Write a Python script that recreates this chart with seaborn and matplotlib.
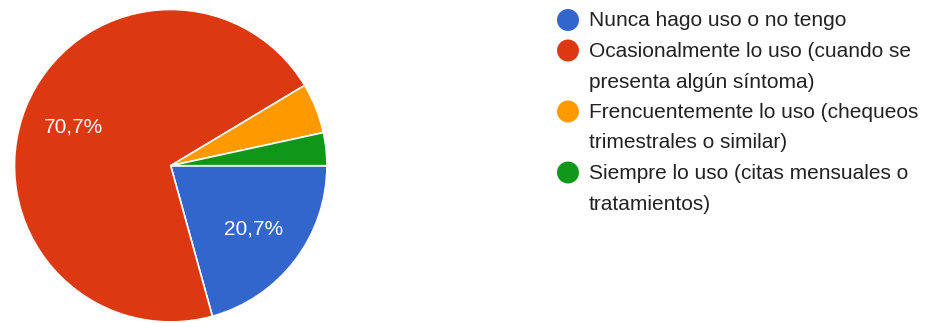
import matplotlib
matplotlib.use("Agg")
import matplotlib.pyplot as plt
import seaborn as sns

# Survey answers and their shares (%)
categories = [
    "Nunca hago uso o no tengo",
    "Ocasionalmente lo uso (cuando se\npresenta algún síntoma)",
    "Frencuentemente lo uso (chequeos\ntrimestrales o similar)",
    "Siempre lo uso (citas mensuales o\ntratamientos)",
]
shares = [20.7, 70.7, 5.2, 3.4]
colors = ["#3366CC", "#DC3912", "#FF9900", "#109618"]

sns.set_style("white")
plt.rcParams["font.family"] = ["Liberation Sans", "DejaVu Sans"]
palette = sns.color_palette(colors)

W, H, DPI = 938, 323, 100
fig = plt.figure(figsize=(W / DPI, H / DPI), dpi=DPI)

# Pie axes: centre (170.7, 165.7) px, radius 157 px
cx, cy, r = 170.7, 165.7, 157
ax = fig.add_axes([(cx - r) / W, (H - cy - r) / H, 2 * r / W, 2 * r / H])


def fmt(p):
    return f"{p:.1f}%".replace(".", ",") if p >= 10 else ""


wedges, _, autotexts = ax.pie(
    shares,
    colors=palette,
    startangle=0,
    counterclock=False,
    autopct=fmt,
    pctdistance=0.67,
    wedgeprops=dict(edgecolor="white", linewidth=1.2),
    textprops=dict(color="white", fontsize=15),
)
ax.set_xlim(-1.005, 1.005)
ax.set_ylim(-1.005, 1.005)
ax.set_aspect("equal")
ax.axis("off")

# Legend drawn in a pixel-coordinate axes, one text line at a time
lax = fig.add_axes([0, 0, 1, 1])
lax.set_xlim(0, W)
lax.set_ylim(H, 0)
lax.axis("off")
y = 20
line_h = 30.5
for label, col in zip(categories, palette):
    lax.scatter([568], [y], s=250, color=col, edgecolor="none")
    for i, line in enumerate(label.split("\n")):
        lax.text(589, y + i * line_h + 1, line, va="center", ha="left",
                 fontsize=15, color="#222222")
    y += line_h * (label.count("\n") + 1)

fig.savefig("out.png", dpi=DPI)
